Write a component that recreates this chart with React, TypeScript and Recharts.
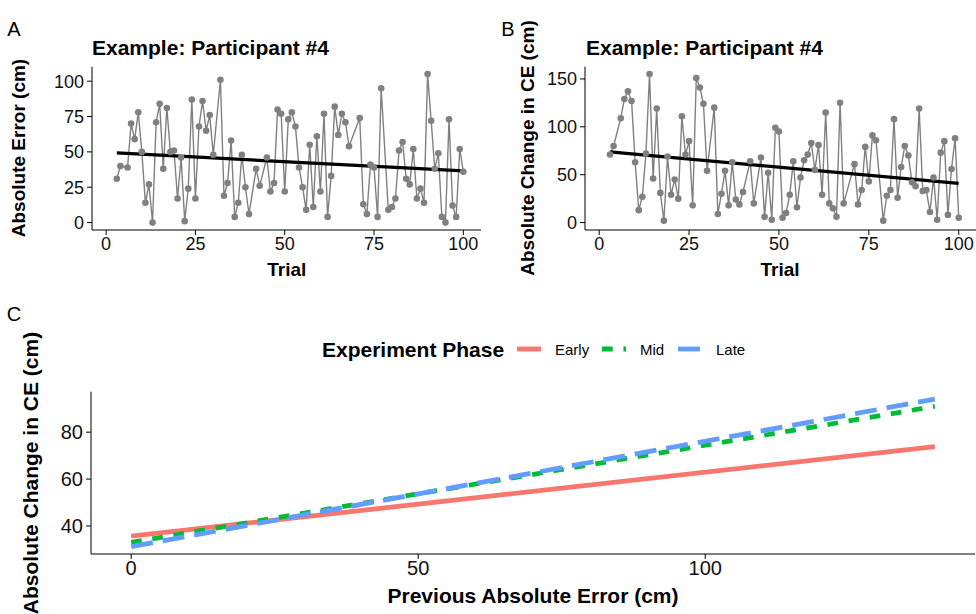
import React from 'react'
import { ComposedChart, Line, XAxis, YAxis } from 'recharts'

// Panels A/B: one participant, trial by trial (missing trials are simply absent)
const trials = [
  3, 4, 6, 7, 8, 9, 10, 11, 12, 13, 14, 15, 16, 17, 18, 19, 20, 21, 22, 23, 24, 25, 26, 27, 28, 29, 30,
  32, 33, 34, 35, 36, 37, 38, 39, 40, 42, 43, 45, 46, 47, 48, 49, 50, 51, 52, 53, 54, 55, 56, 57, 58,
  59, 60, 61, 62, 63, 64, 65, 66, 67, 68, 71, 72, 73, 74, 75, 76, 77, 79, 80, 81, 82, 83, 84, 85, 86,
  87, 88, 89, 90, 91, 92, 93, 94, 95, 96, 97, 98, 99, 100,
]
const absError = [
  31, 40, 39, 70, 59, 78, 50, 14, 27, 0, 71, 84, 38, 81, 50, 51, 17, 46, 1, 24, 87, 17, 68, 86, 65, 76, 48,
  101, 19, 28, 58, 4, 14, 48, 25, 6, 38, 26, 46, 22, 28, 80, 77, 22, 73, 78, 68, 39, 25, 9, 55, 11,
  61, 22, 77, 4, 33, 82, 62, 77, 71, 54, 74, 13, 6, 41, 39, 4, 95, 9, 11, 17, 51, 57, 31, 27, 52,
  17, 24, 14, 105, 72, 38, 49, 4, 0, 73, 12, 4, 52, 36,
]
const absChangeCE = [
  71, 80, 109, 129, 137, 127, 63, 13, 27, 72, 155, 46, 119, 31, 2, 69, 29, 45, 25, 111, 71, 85, 18, 151, 141, 124, 54,
  120, 9, 30, 54, 18, 63, 24, 19, 32, 64, 20, 68, 6, 52, 3, 99, 95, 5, 10, 29, 64, 16, 47, 65, 71,
  83, 55, 81, 29, 115, 20, 15, 6, 125, 20, 61, 19, 34, 79, 43, 91, 86, 2, 28, 34, 108, 26, 58, 80, 70,
  42, 38, 119, 33, 34, 11, 47, 3, 73, 85, 8, 56, 88, 5,
]
// fitted lm lines, read at the ends of the trial range
const trendTrials = [3, 100]
const trendError = [49.3, 36.5]
const trendChange = [73.8, 40.9]

// Panel C: fitted lines per experiment phase
const prevError = [0, 140]
const phases = ['Early', 'Mid', 'Late']
const phaseFits = [
  [35.7, 73.8],
  [33.0, 91.0],
  [31.2, 94.1],
]
const phaseColors = ['#F8766D', '#00BA38', '#619CFF']
const phaseDash = ['0', '10.7 10.7', '22 10']

const FONT = '"Liberation Sans", Arial, sans-serif'
const INK = '#111'

const rowsA = trials.map((t, i) => ({ t, v: absError[i] }))
const rowsB = trials.map((t, i) => ({ t, v: absChangeCE[i] }))
const trendRowsA = trendTrials.map((t, i) => ({ t, v: trendError[i] }))
const trendRowsB = trendTrials.map((t, i) => ({ t, v: trendChange[i] }))

function Txt({
  x,
  y,
  size,
  bold,
  rotate,
  anchor = 'center',
  children,
}: {
  x: number
  y: number
  size: number
  bold?: boolean
  rotate?: boolean
  anchor?: 'left' | 'center'
  children: React.ReactNode
}) {
  const tx = anchor === 'center' ? '-50%' : '0'
  return (
    <div
      style={{
        position: 'absolute',
        left: x,
        top: y,
        fontSize: size,
        fontWeight: bold ? 700 : 400,
        lineHeight: 1,
        whiteSpace: 'nowrap',
        color: '#000',
        transform: `translate(${tx}, -50%)${rotate ? ' rotate(-90deg)' : ''}`,
        transformOrigin: anchor === 'center' ? 'center' : 'left center',
      }}
    >
      {children}
    </div>
  )
}

function TrialPanel({
  left,
  width,
  rows,
  trend,
  yDomain,
  yTicks,
}: {
  left: number
  width: number
  rows: { t: number; v: number }[]
  trend: { t: number; v: number }[]
  yDomain: [number, number]
  yTicks: number[]
}) {
  return (
    <div style={{ position: 'absolute', left, top: 0 }}>
      <ComposedChart width={width} height={290} margin={{ top: 66.7, right: 0, bottom: 30, left: 32 }}>
        <XAxis
          type="number"
          dataKey="t"
          domain={[-3.95, 104.95]}
          ticks={[0, 25, 50, 75, 100]}
          interval={0}
          allowDataOverflow
          height={30}
          tickSize={5}
          tickMargin={2}
          axisLine={{ stroke: '#000' }}
          tickLine={{ stroke: '#000' }}
          tick={{ fill: INK, fontSize: 18 }}
        />
        <YAxis
          type="number"
          domain={yDomain}
          ticks={yTicks}
          interval={0}
          allowDataOverflow
          width={60}
          tickSize={5}
          tickMargin={3}
          axisLine={{ stroke: '#000' }}
          tickLine={{ stroke: '#000' }}
          tick={{ fill: INK, fontSize: 18 }}
        />
        <Line
          data={rows}
          dataKey="v"
          stroke="#808080"
          strokeWidth={1.4}
          dot={{ r: 3.3, fill: '#808080', stroke: 'none' }}
          activeDot={false}
          isAnimationActive={false}
        />
        <Line
          data={trend}
          dataKey="v"
          stroke="#000"
          strokeWidth={3.3}
          dot={false}
          activeDot={false}
          isAnimationActive={false}
        />
      </ComposedChart>
    </div>
  )
}

export default function App() {
  return (
    <div
      style={{
        position: 'absolute',
        left: 0,
        top: 0,
        width: 976,
        height: 614,
        background: '#fff',
        fontFamily: FONT,
        overflow: 'hidden',
      }}
    >
      <TrialPanel
        left={0.3}
        width={481}
        rows={rowsA}
        trend={trendRowsA}
        yDomain={[-5.25, 110.25]}
        yTicks={[0, 25, 50, 75, 100]}
      />
      <TrialPanel
        left={492.5}
        width={483.5}
        rows={rowsB}
        trend={trendRowsB}
        yDomain={[-7.75, 162.75]}
        yTicks={[0, 50, 100, 150]}
      />

      <div style={{ position: 'absolute', left: 0, top: 290 }}>
        <ComposedChart width={976} height={324} margin={{ top: 101.7, right: 1, bottom: 30, left: 31 }}>
          <XAxis
            type="number"
            dataKey="x"
            domain={[-7, 147]}
            ticks={[0, 50, 100]}
            interval={0}
            allowDataOverflow
            height={30}
            tickSize={5}
            tickMargin={2}
            axisLine={{ stroke: '#000' }}
            tickLine={{ stroke: '#000' }}
            tick={{ fill: INK, fontSize: 20 }}
          />
          <YAxis
            type="number"
            domain={[28.05, 97.25]}
            ticks={[40, 60, 80]}
            interval={0}
            allowDataOverflow
            width={60}
            tickSize={5}
            tickMargin={3}
            axisLine={{ stroke: '#000' }}
            tickLine={{ stroke: '#000' }}
            tick={{ fill: INK, fontSize: 20 }}
          />
          {phases.map((p, k) => (
            <Line
              key={p}
              name={p}
              data={prevError.map((x, i) => ({ x, y: phaseFits[k][i] }))}
              dataKey="y"
              stroke={phaseColors[k]}
              strokeWidth={4.8}
              strokeDasharray={phaseDash[k]}
              dot={false}
              activeDot={false}
              isAnimationActive={false}
            />
          ))}
        </ComposedChart>
      </div>

      {/* panel tags, titles, axis titles */}
      <Txt x={14} y={29} size={20}>A</Txt>
      <Txt x={508} y={29} size={20}>B</Txt>
      <Txt x={14} y={314} size={20}>C</Txt>

      <Txt x={92} y={47} size={21} bold anchor="left">Example: Participant #4</Txt>
      <Txt x={586} y={47} size={21} bold anchor="left">Example: Participant #4</Txt>

      <Txt x={286.8} y={269} size={19} bold>Trial</Txt>
      <Txt x={780} y={269} size={19} bold>Trial</Txt>
      <Txt x={18} y={148} size={19} bold rotate>Absolute Error (cm)</Txt>
      <Txt x={527} y={148} size={19} bold rotate>Absolute Change in CE (cm)</Txt>

      <Txt x={533} y={595} size={21} bold>Previous Absolute Error (cm)</Txt>
      <Txt x={30} y={473} size={21} bold rotate>Absolute Change in CE (cm)</Txt>

      {/* legend for panel C */}
      <Txt x={322} y={349} size={21} bold anchor="left">Experiment Phase</Txt>
      {phases.map((p, k) => {
        const keyX = [517, 602, 678][k]
        const textX = [555, 640, 716][k]
        return (
          <React.Fragment key={p}>
            <svg style={{ position: 'absolute', left: keyX, top: 343 }} width={24} height={12}>
              <line
                x1={0}
                y1={6}
                x2={24}
                y2={6}
                stroke={phaseColors[k]}
                strokeWidth={4.8}
                strokeDasharray={phaseDash[k]}
              />
            </svg>
            <Txt x={textX} y={349} size={15} anchor="left">{p}</Txt>
          </React.Fragment>
        )
      })}
    </div>
  )
}
